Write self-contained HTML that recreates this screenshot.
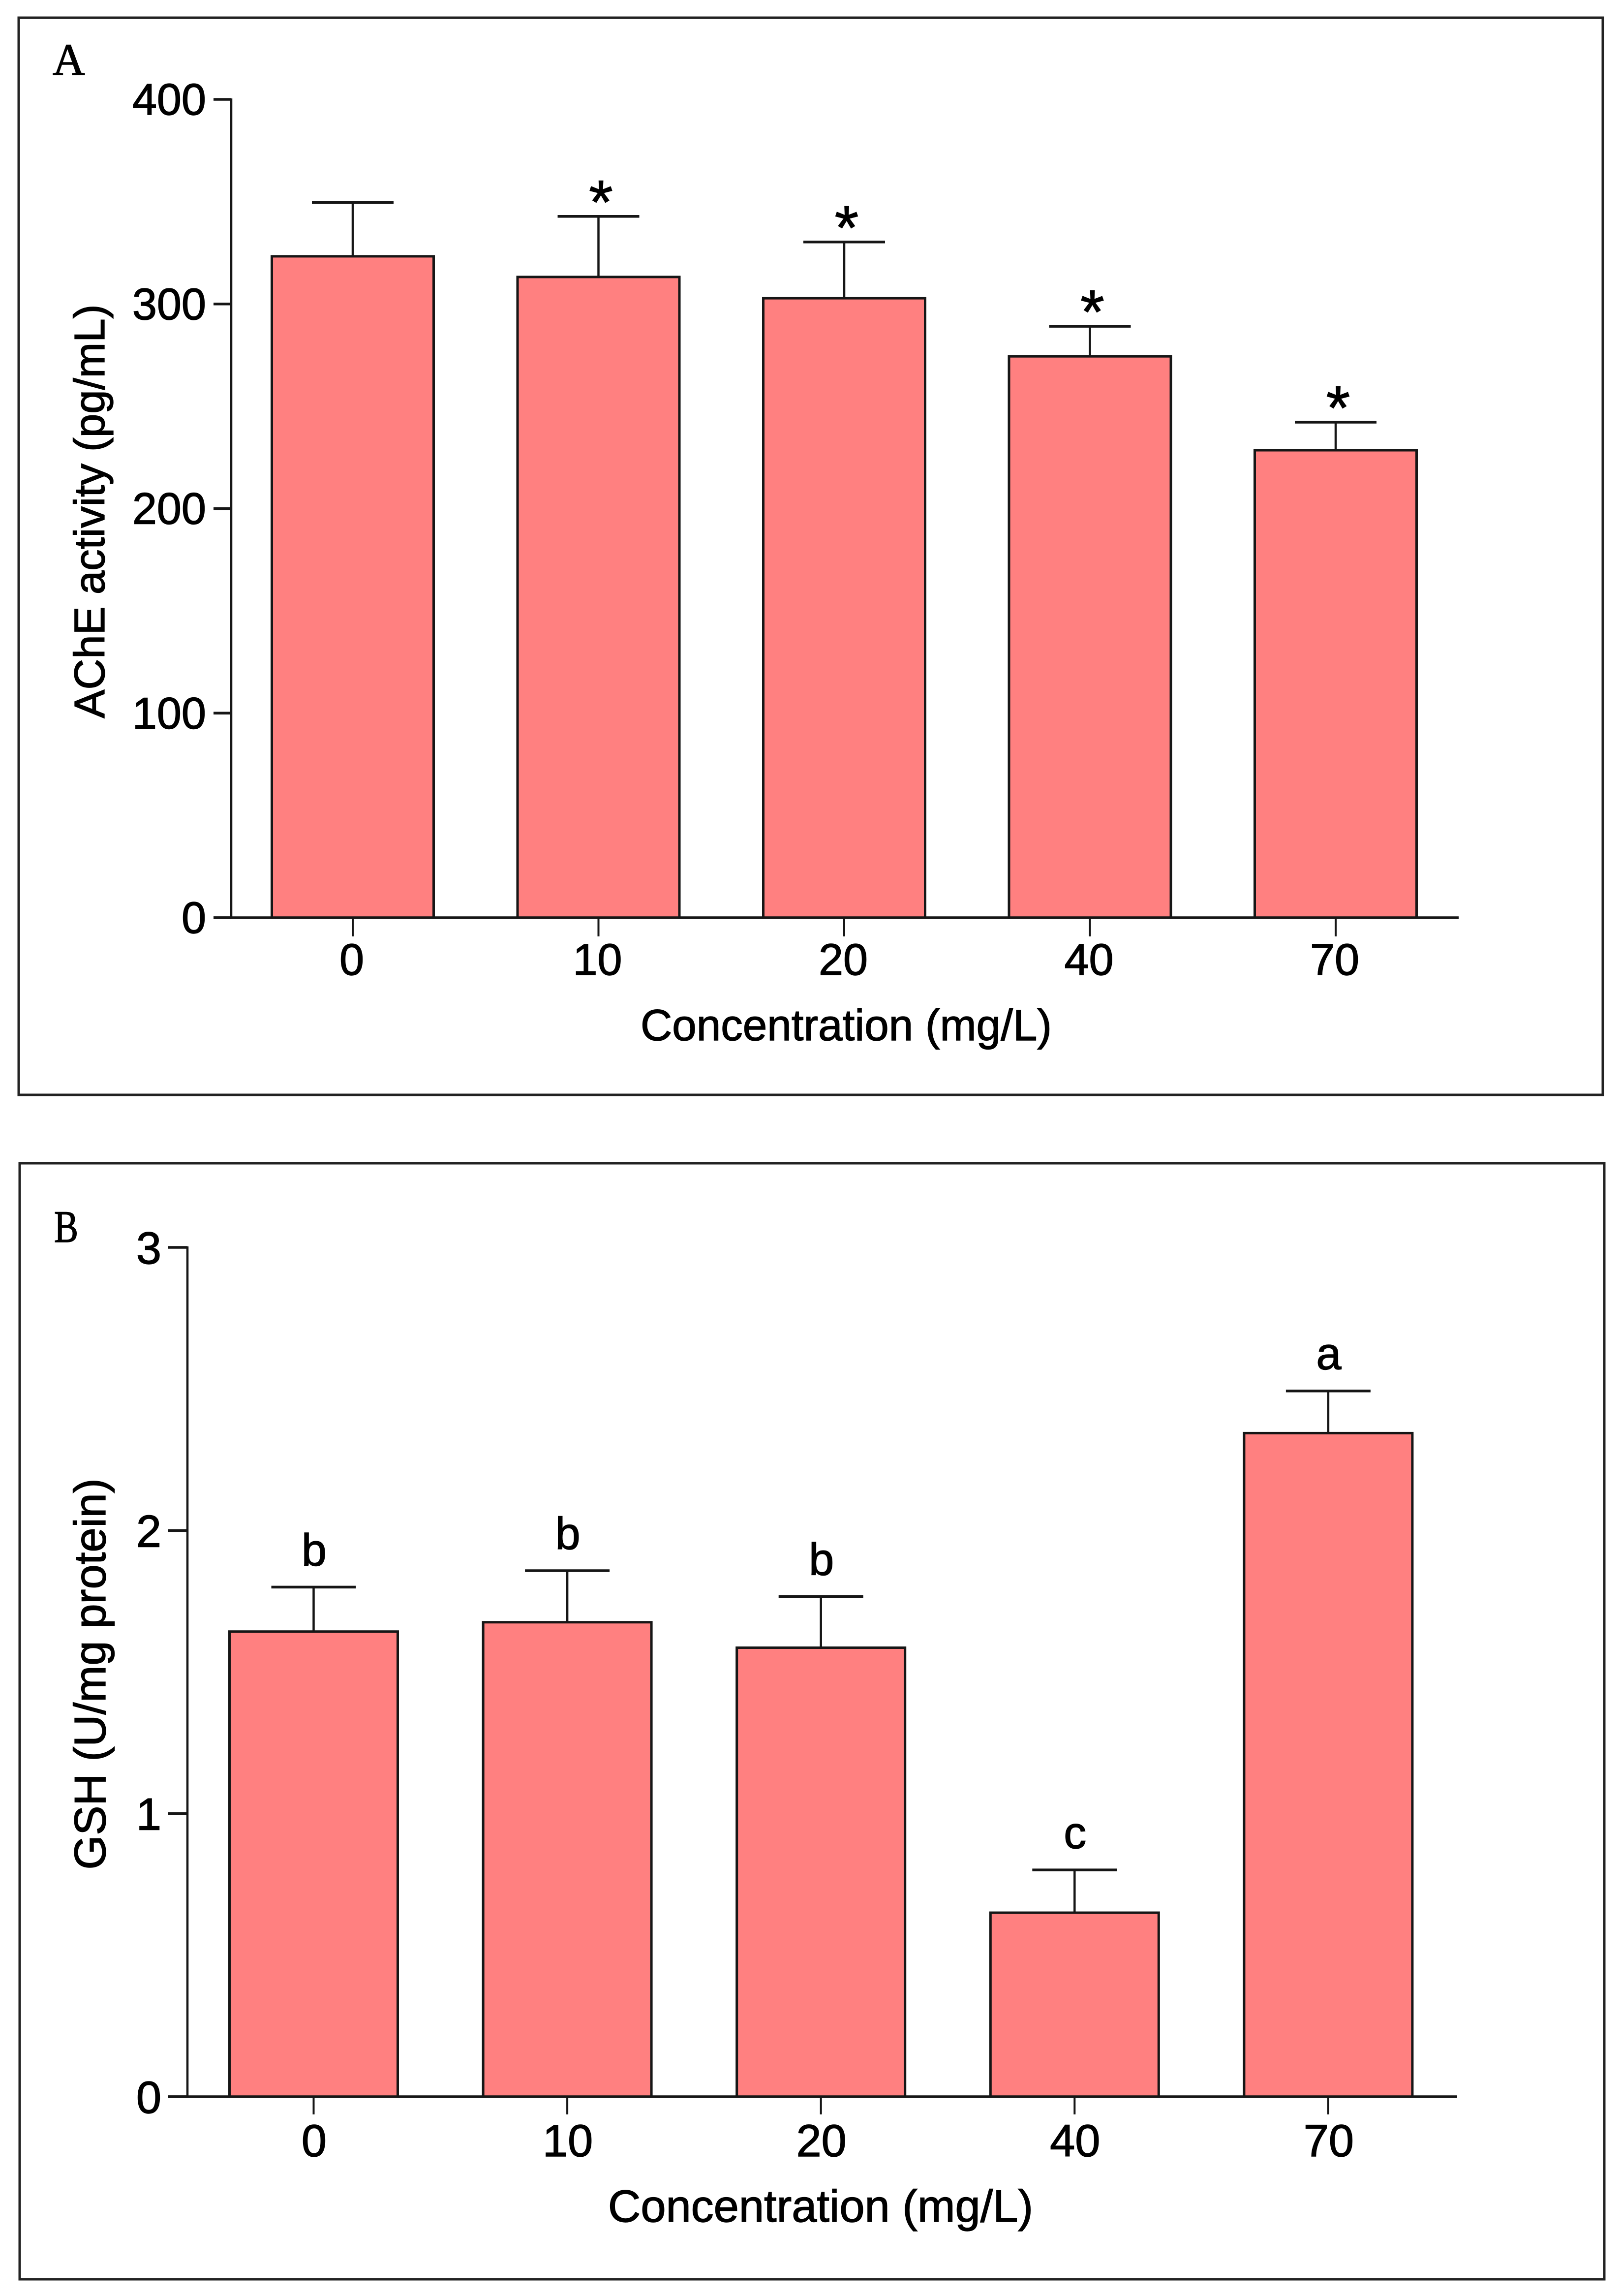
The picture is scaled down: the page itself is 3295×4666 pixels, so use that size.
<!DOCTYPE html>
<html lang="en">
<head>
<meta charset="utf-8">
<title>AChE activity and GSH by concentration</title>
<style>
  html, body { margin: 0; padding: 0; background: #ffffff; }
  svg { display: block; }
  text { font-family: "Liberation Sans", sans-serif; fill: #000; stroke: #000; stroke-width: 1.4px; }
  .serif { font-family: "Liberation Serif", serif; }
</style>
</head>
<body>
<svg id="figure" xmlns="http://www.w3.org/2000/svg" width="3295" height="4666" viewBox="0 0 3295 4666">
  <rect x="0" y="0" width="3295" height="4666" fill="#ffffff"/>

  <g id="panel-a">
    <rect x="38" y="36" width="3220" height="2189" fill="#fff" stroke="#222" stroke-width="5"/>
    <text class="serif" x="107" y="152" font-size="91">A</text>
    <text transform="translate(212 1039) rotate(-90)" text-anchor="middle" font-size="87">AChE activity (pg/mL)</text>
    <text x="1720" y="2114" text-anchor="middle" font-size="89">Concentration (mg/L)</text>
  </g>

  <g id="panel-b">
    <rect x="40" y="2364" width="3221" height="2268" fill="#fff" stroke="#222" stroke-width="5"/>
    <text class="serif" transform="translate(110 2524) scale(0.8 1)" font-size="92">B</text>
    <text transform="translate(214 3402) rotate(-90)" text-anchor="middle" font-size="90">GSH (U/mg protein)</text>
    <text x="1668" y="4515" text-anchor="middle" font-size="92">Concentration (mg/L)</text>
  </g>
</svg>

<script>
// ---- Chart data ----
const categories = ['0', '10', '20', '40', '70'];

const valuesA = [323.3, 313.2, 302.8, 274.4, 228.5];
const errorsA = [26.3, 29.6, 27.5, 14.7, 13.7];
const marksA = ['', '*', '*', '*', '*'];
const yTicksA = [0, 100, 200, 300, 400];
const yTickLabelsA = ['0', '100', '200', '300', '400'];

const valuesB = [1.643, 1.676, 1.586, 0.650, 2.344];
const errorsB = [0.157, 0.182, 0.181, 0.151, 0.149];
const marksB = ['b', 'b', 'b', 'c', 'a'];
const yTicksB = [0, 1, 2, 3];
const yTickLabelsB = ['0', '1', '2', '3'];

// ---- Drawing ----
const NS = 'http://www.w3.org/2000/svg';
const INK = '#161616';
const BAR_FILL = '#ff8080';

function create(tag, parent, props) {
  const el = document.createElementNS(NS, tag);
  for (const k in props) el.setAttribute(k, props[k]);
  parent.appendChild(el);
  return el;
}

function drawPanel(parent, values, errors, marks, yTicks, yTickLabels, layout) {
  const yMax = yTicks[yTicks.length - 1];
  const yScale = v => layout.yBase - (v / yMax) * (layout.yBase - layout.yTop);
  const xScale = i => layout.xFirst + i * layout.xStep;

  // error bars sit behind the bars
  values.forEach((v, i) => {
    const x = xScale(i);
    const capY = yScale(v + errors[i]);

    const stem = create('line', parent, { x1: x, x2: x, y1: yScale(v), y2: capY, stroke: INK, 'stroke-width': 4.5 });
    
    

    const cap = create('line', parent, { x1: x - layout.capHalf, x2: x + layout.capHalf, y1: capY, y2: capY, stroke: INK, 'stroke-width': 5.5 });
    
    
  });

  values.forEach((v, i) => {
    const x = xScale(i);
    const top = yScale(v);
    const bar = create('rect', parent, {
      x: x - layout.barWidth / 2, y: top, width: layout.barWidth, height: layout.yBase - top,
      fill: BAR_FILL, stroke: INK, 'stroke-width': 5
    });
    
    

    if (marks[i]) {
      const note = create('text', parent, {
        x: x + layout.markDx, y: yScale(v + errors[i]) + layout.markDy,
        'text-anchor': 'middle', 'font-size': layout.markSize
      });
      
      
      note.textContent = marks[i];
    }

    const tick = create('line', parent, { x1: x, x2: x, y1: layout.yBase, y2: layout.yBase + layout.xTickLen, stroke: INK, 'stroke-width': 4 });
    
    

    const label = create('text', parent, {
      x: x + layout.xLabelDx, y: layout.yBase + layout.xLabelDy,
      'text-anchor': 'middle', 'font-size': layout.fontSize
    });
    
    
    label.textContent = categories[i];
  });

  // axes
  const yAxis = create('line', parent, { x1: layout.xAxis, x2: layout.xAxis, y1: layout.yTop - 2, y2: layout.yBase, stroke: INK, 'stroke-width': 4.5 });
  
  

  const xAxis = create('line', parent, { x1: layout.xTickStart, x2: layout.xEnd, y1: layout.yBase, y2: layout.yBase, stroke: INK, 'stroke-width': 5.5 });
  
  

  yTicks.forEach((t, i) => {
    const y = yScale(t);
    const tick = create('line', parent, { x1: layout.xTickStart, x2: layout.xAxis, y1: y, y2: y, stroke: INK, 'stroke-width': 5.5 });
    
    

    const label = create('text', parent, {
      x: layout.yLabelX, y: y + layout.yLabelDy,
      'text-anchor': 'end', 'font-size': layout.fontSize
    });
    
    
    label.textContent = yTickLabels[i];
  });
}

drawPanel(document.getElementById('panel-a'), valuesA, errorsA, marksA, yTicksA, yTickLabelsA, {
  yBase: 1865, yTop: 202, xFirst: 717, xStep: 499.5, barWidth: 329, capHalf: 83,
  xAxis: 470, xTickStart: 434, xEnd: 2965, xTickLen: 38,
  xLabelDx: -2, xLabelDy: 116, yLabelX: 419, yLabelDy: 31, fontSize: 90,
  markDx: 5, markDy: 14, markSize: 125
});

drawPanel(document.getElementById('panel-b'), valuesB, errorsB, marksB, yTicksB, yTickLabelsB, {
  yBase: 4261, yTop: 2535, xFirst: 637.5, xStep: 515.6, barWidth: 342, capHalf: 86,
  xAxis: 381, xTickStart: 342, xEnd: 2962, xTickLen: 36,
  xLabelDx: 1, xLabelDy: 121, yLabelX: 328, yLabelDy: 33, fontSize: 92,
  markDx: 1, markDy: -44, markSize: 92
});
</script>
</body>
</html>
